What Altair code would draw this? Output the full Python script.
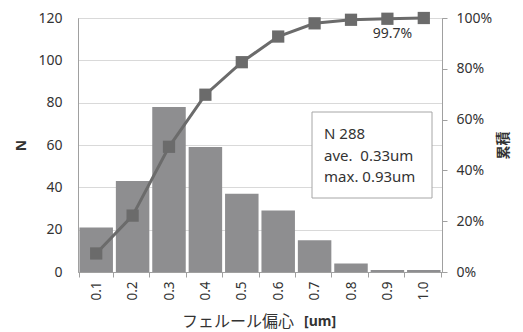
import altair as alt
import pandas as pd

categories = ["0.1", "0.2", "0.3", "0.4", "0.5", "0.6", "0.7", "0.8", "0.9", "1.0"]
counts = [21, 43, 78, 59, 37, 29, 15, 4, 1, 1]
cumulative = [0.073, 0.222, 0.493, 0.698, 0.826, 0.927, 0.979, 0.993, 0.997, 1.0]
point_labels = ["", "", "", "", "", "", "", "", "99.7%", ""]
box_lines = ["N 288", "ave.\u00a0\u00a00.33um", "max. 0.93um"]

df = pd.DataFrame({"cat": categories, "n": counts, "cum": cumulative, "lab": point_labels})

FONT = "Noto Sans"
JP = "Noto Sans CJK JP"
TXT = "#333333"
AX = "#a0a0a0"

xenc = alt.X("cat:N", sort=categories, title=None,
             scale=alt.Scale(paddingInner=0.08, paddingOuter=0.04),
             axis=alt.Axis(labelAngle=-90, tickBand="extent", tickSize=5, tickColor=AX,
                           domainColor=AX, labelFont=FONT, labelFontSize=13.5, labelColor=TXT,
                           labelPadding=4, labelBaseline="middle"))

base = alt.Chart(df)

bars = base.mark_bar(color="#8e8e90").encode(
    x=xenc,
    y=alt.Y("n:Q", scale=alt.Scale(domain=[0, 120]), title="N",
            axis=alt.Axis(values=[0, 20, 40, 60, 80, 100, 120], ticks=False, domain=True,
                          domainColor=AX, gridColor="#d9d9d9", labelFont=FONT,
                          labelFontSize=14, labelColor=TXT, labelPadding=16,
                          titleFont=FONT, titleFontSize=14, titleFontWeight="bold",
                          titleColor=TXT, titleAngle=270, titleX=-50, titleY=127)),
)

yr = alt.Y("cum:Q", scale=alt.Scale(domain=[0, 1]), title="累積",
           axis=alt.Axis(orient="right", format=".0%", values=[0, 0.2, 0.4, 0.6, 0.8, 1.0],
                         grid=False, tickSize=5, tickColor=AX, domainColor=AX,
                         labelFont=FONT, labelFontSize=14, labelColor=TXT, labelPadding=9,
                         titleFont=JP, titleFontSize=14, titleFontWeight="bold",
                         titleColor=TXT, titleAngle=270, titleX=68, titleY=127))

line = base.mark_line(color="#6b6b6b", strokeWidth=3).encode(x=alt.X("cat:N", sort=categories), y=yr)
pts = base.mark_point(shape="square", filled=True, opacity=1, size=150, color="#6b6b6b").encode(
    x=alt.X("cat:N", sort=categories), y=alt.Y("cum:Q", scale=alt.Scale(domain=[0, 1])))
lbl = base.mark_text(font=FONT, fontSize=14, color=TXT, dy=15, dx=5).encode(
    x=alt.X("cat:N", sort=categories), y=alt.Y("cum:Q", scale=alt.Scale(domain=[0, 1])),
    text="lab:N")

rhs = alt.layer(line, pts, lbl)

box_df = pd.DataFrame({"t": ["\n".join(box_lines)]})
box = alt.Chart(box_df).mark_rect(fill="white", stroke="#a6a6a6", strokeWidth=1).encode(
    x=alt.value(234), x2=alt.value(354), y=alt.value(94), y2=alt.value(180))
box_text = alt.Chart(box_df).mark_text(align="left", baseline="middle", font=FONT, fontSize=15,
                                       color=TXT, lineHeight=21.5, lineBreak="\n").encode(
    x=alt.value(246), y=alt.value(116), text="t:N")

xt_df = pd.DataFrame({"a": ["フェルール偏心"], "b": ["[um]"]})
xt1 = alt.Chart(xt_df).mark_text(align="left", baseline="middle", font=JP, fontSize=16,
                                 color=TXT).encode(x=alt.value(104), y=alt.value(304), text="a:N")
xt2 = alt.Chart(xt_df).mark_text(align="left", baseline="middle", font=FONT, fontSize=14,
                                 fontWeight="bold", color=TXT).encode(x=alt.value(226), y=alt.value(304), text="b:N")

chart = alt.layer(bars, rhs, box, box_text, xt1, xt2).resolve_scale(y="independent").properties(
    width=364, height=254,
    autosize=alt.AutoSizeParams(type="none"),
    padding={"left": 78, "top": 18, "right": 81, "bottom": 60},
    background="white",
).configure_view(stroke=AX, strokeWidth=1)

chart.save("out.html", embed_options={"renderer": "svg", "actions": False})
